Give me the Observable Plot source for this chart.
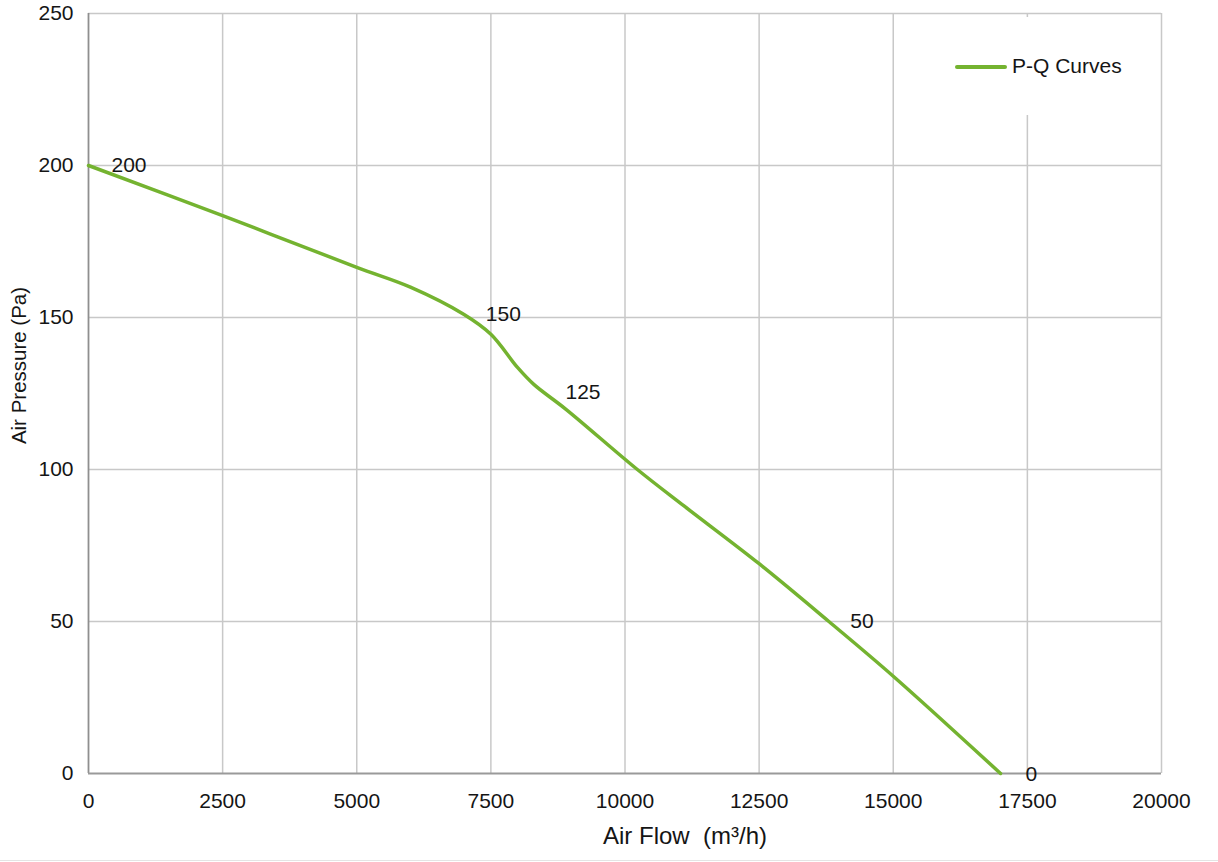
<!DOCTYPE html>
<html>
<head>
<meta charset="utf-8">
<script src="https://cdn.jsdelivr.net/npm/d3@7"></script>
<script src="https://cdn.jsdelivr.net/npm/@observablehq/plot@0.6"></script>
<style>
  html, body { margin: 0; padding: 0; background: #fff; }
  #wrap { position: relative; width: 1218px; height: 862px; overflow: hidden; font-family: "Liberation Sans", Arial, Helvetica, sans-serif; color: #151515; }
  #wrap svg { position: absolute; left: 0; top: 0; }
  #legend { position: absolute; left: 935px; top: 17px; width: 215px; height: 98px; background: #fff; }
  #legend .sw { position: absolute; left: 20px; top: 48px; width: 52px; height: 4px; border-radius: 2px; background: #74b330; }
  #legend .lb { position: absolute; left: 77px; top: 37px; font-size: 21px; line-height: 24px; white-space: nowrap; }
  #pageedge { position: absolute; left: 0; top: 860px; width: 1218px; height: 1px; background: #e4e4e4; }
</style>
</head>
<body>
<div id="wrap">
  <div id="legend"><div class="sw"></div><div class="lb" id="legendText"></div></div>
  <div id="pageedge"></div>
</div>
<script>
// ---- data ----
const seriesName = "P-Q Curves";
const flow =     [0,   2500,  5000,  6000, 7000, 7500,  8000,  8300, 8900,  10230, 11100, 12500, 13800, 15000, 17000];
const pressure = [200, 183.5, 166.5, 160,  151,  144.5, 133.5, 128,  119.8, 100,   88,    69,    50,    32,    0];

const labelFlow =     [429, 7405, 8890, 14200, 17465];
const labelPressure = [200, 151,  125.4, 50,   -0.4];
const labelText =     ["200", "150", "125", "50", "0"];

const xTicks = [0, 2500, 5000, 7500, 10000, 12500, 15000, 17500, 20000];
const yTicks = [0, 50, 100, 150, 200, 250];
const xTitle = "Air Flow\u00a0\u00a0(m³/h)";
const yTitle = "Air Pressure\u00a0(Pa)";

// ---- tables built from arrays ----
const curve = flow.map((f, i) => ({flow: f, pressure: pressure[i]}));
const labels = labelText.map((t, i) => ({flow: labelFlow[i], pressure: labelPressure[i], text: t}));

const green = "#74b330";
const gridColor = "#c8c8c8";
const ink = "#151515";

const chart = Plot.plot({
  width: 1218,
  height: 862,
  marginLeft: 88,
  marginRight: 57,
  marginTop: 13,
  marginBottom: 89,
  style: {fontFamily: '"Liberation Sans", Arial, Helvetica, sans-serif', color: ink, background: "transparent", overflow: "visible"},
  x: {domain: [0, 20000]},
  y: {domain: [0, 250]},
  marks: [
    Plot.gridX(xTicks.filter(d => d !== 0), {stroke: gridColor, strokeOpacity: 1, strokeWidth: 1.5}),
    Plot.gridY(yTicks.filter(d => d !== 0), {stroke: gridColor, strokeOpacity: 1, strokeWidth: 1.5}),
    Plot.ruleX([0], {stroke: "#8f8f8f", strokeWidth: 1.8}),
    Plot.ruleY([0], {stroke: "#9a9a9a", strokeWidth: 2}),
    Plot.axisX(xTicks, {tickSize: 0, tickPadding: 20, fontSize: 21, label: null, tickFormat: d => String(d)}),
    Plot.axisY(yTicks, {tickSize: 0, tickPadding: 15, fontSize: 21, label: null, tickFormat: d => String(d)}),
    Plot.line(curve, {x: "flow", y: "pressure", stroke: green, strokeWidth: 3.5, curve: "catmull-rom", strokeLinecap: "round"}),
    Plot.text(labels, {x: "flow", y: "pressure", text: "text", textAnchor: "start", fontSize: 21, fill: ink}),
    Plot.text([xTitle], {frameAnchor: "bottom", textAnchor: "middle", lineAnchor: "middle", dx: 60, dy: 63, fontSize: 24, fill: ink}),
    Plot.text([yTitle], {frameAnchor: "left", textAnchor: "middle", lineAnchor: "middle", rotate: -90, dx: -69, dy: -28, fontSize: 20.5, fill: ink})
  ]
});

const wrap = document.getElementById("wrap");
wrap.insertBefore(chart, wrap.firstChild);
document.getElementById("legendText").textContent = seriesName;
</script>
</body>
</html>
